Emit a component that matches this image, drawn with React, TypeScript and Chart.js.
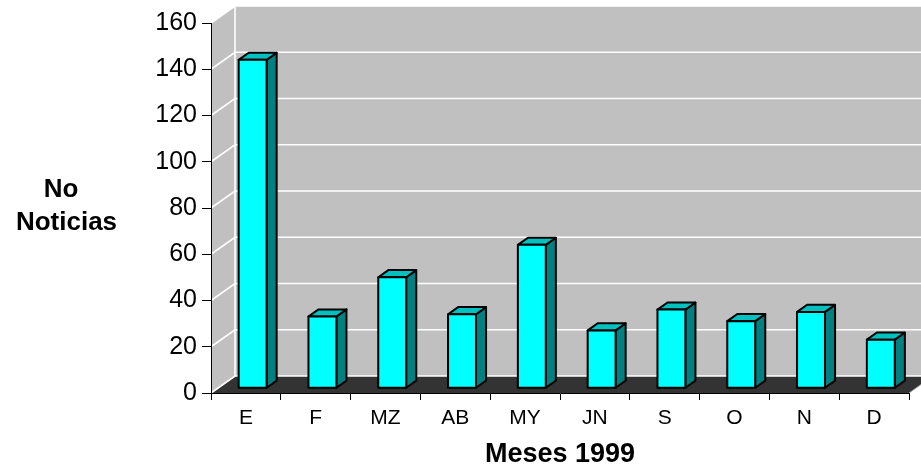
import React, { useEffect, useRef } from "react";
import { Chart, registerables } from "chart.js";

Chart.register(...registerables);

const categories = ["E", "F", "MZ", "AB", "MY", "JN", "S", "O", "N", "D"];
const noticias = [142, 31, 48, 32, 62, 25, 34, 29, 33, 21];
const yTicks = [0, 20, 40, 60, 80, 100, 120, 140, 160];
const yTitleLines = ["No", "Noticias"];
const xTitle = "Meses 1999";

const DX = 24;
const DY = 17;
const F0 = 0.28;
const F1 = 0.7;

const walls3d = {
  id: "walls3d",
  beforeDraw(chart: any) {
    const { ctx, chartArea: a, scales } = chart;
    const y = scales.y;
    const L = a.left, R = a.right, T = a.top, B = a.bottom;
    ctx.save();
    // back wall
    ctx.fillStyle = "#c0c0c0";
    ctx.fillRect(L + DX, T - DY, R - L, B - T);
    // left wall
    ctx.beginPath();
    ctx.moveTo(L, B);
    ctx.lineTo(L, T);
    ctx.lineTo(L + DX, T - DY);
    ctx.lineTo(L + DX, B - DY);
    ctx.closePath();
    ctx.fill();
    // floor
    ctx.fillStyle = "#333333";
    ctx.beginPath();
    ctx.moveTo(L, B);
    ctx.lineTo(R, B);
    ctx.lineTo(R + DX, B - DY);
    ctx.lineTo(L + DX, B - DY);
    ctx.closePath();
    ctx.fill();
    ctx.strokeStyle = "#9a9a9a";
    ctx.lineWidth = 1;
    ctx.beginPath();
    ctx.moveTo(R, B);
    ctx.lineTo(R + DX, B - DY);
    ctx.stroke();
    // grid lines
    ctx.strokeStyle = "#ffffff";
    ctx.lineWidth = 1.6;
    yTicks.forEach((v) => {
      const py = y.getPixelForValue(v);
      ctx.beginPath();
      ctx.moveTo(L, py);
      ctx.lineTo(L + DX, py - DY);
      ctx.lineTo(R + DX, py - DY);
      ctx.stroke();
    });
    ctx.beginPath();
    ctx.moveTo(L + DX, T - DY);
    ctx.lineTo(L + DX, B - DY);
    ctx.stroke();
    ctx.restore();
  },
  afterDatasetsDraw(chart: any) {
    const { ctx } = chart;
    const meta = chart.getDatasetMeta(0);
    ctx.save();
    ctx.lineWidth = 2;
    ctx.strokeStyle = "#000000";
    ctx.lineJoin = "round";
    const ddx = (F1 - F0) * DX;
    const ddy = (F1 - F0) * DY;
    meta.data.forEach((bar: any) => {
      const { x, y, base, width } = bar.getProps(["x", "y", "base", "width"], true);
      const x0 = x - width / 2 + F0 * DX;
      const x1 = x + width / 2 + F0 * DX;
      const yt = y - F0 * DY;
      const yb = base - F0 * DY;
      // side
      ctx.fillStyle = "#008080";
      ctx.beginPath();
      ctx.moveTo(x1, yb);
      ctx.lineTo(x1, yt);
      ctx.lineTo(x1 + ddx, yt - ddy);
      ctx.lineTo(x1 + ddx, yb - ddy);
      ctx.closePath();
      ctx.fill();
      ctx.stroke();
      // top
      ctx.fillStyle = "#00c0c0";
      ctx.beginPath();
      ctx.moveTo(x0, yt);
      ctx.lineTo(x1, yt);
      ctx.lineTo(x1 + ddx, yt - ddy);
      ctx.lineTo(x0 + ddx, yt - ddy);
      ctx.closePath();
      ctx.fill();
      ctx.stroke();
      // front
      ctx.fillStyle = "#00ffff";
      ctx.beginPath();
      ctx.rect(x0, yt, x1 - x0, yb - yt);
      ctx.fill();
      ctx.stroke();
    });
    ctx.restore();
  },
  afterDraw(chart: any) {
    const { ctx } = chart;
    ctx.save();
    ctx.fillStyle = "#000000";
    ctx.font = 'bold 26px "Liberation Sans", Arial, sans-serif';
    ctx.textAlign = "center";
    ctx.textBaseline = "alphabetic";
    ctx.fillText(yTitleLines[0], 61, 197);
    ctx.fillText(yTitleLines[1], 66.5, 230);
    ctx.restore();
  },
};

export default function App() {
  const ref = useRef<HTMLCanvasElement | null>(null);
  useEffect(() => {
    if (!ref.current) return;
    Chart.defaults.font.family = '"Liberation Sans", Arial, sans-serif';
    const chart = new Chart(ref.current, {
      type: "bar",
      data: {
        labels: categories,
        datasets: [
          {
            data: noticias,
            backgroundColor: "rgba(0,0,0,0)",
            borderWidth: 0,
            barPercentage: 1,
            categoryPercentage: 0.4,
          },
        ],
      },
      options: {
        responsive: false,
        animation: false,
        layout: { padding: { top: 23, right: 12, left: 0, bottom: 0 } },
        plugins: { legend: { display: false }, tooltip: { enabled: false } },
        scales: {
          x: {
            offset: true,
            afterFit: (s: any) => {
              s.height = 82;
            },
            grid: {
              offset: true,
              drawOnChartArea: false,
              drawTicks: true,
              tickLength: 7,
              color: "#000000",
            },
            border: { display: true, color: "#000000", width: 1 },
            ticks: { color: "#000000", font: { size: 21 }, padding: 6 },
            title: {
              display: true,
              text: xTitle,
              color: "#000000",
              font: { size: 27, weight: "bold" },
              padding: { top: 0, bottom: 4 },
            },
          },
          y: {
            min: 0,
            max: 160,
            afterFit: (s: any) => {
              s.width = 211;
            },
            afterBuildTicks: (s: any) => {
              s.ticks = yTicks.map((v) => ({ value: v }));
            },
            grid: {
              drawOnChartArea: false,
              drawTicks: true,
              tickLength: 9,
              color: "#000000",
            },
            border: { display: true, color: "#000000", width: 1 },
            ticks: { color: "#000000", font: { size: 25 }, padding: 5 },
          },
        },
      },
      plugins: [walls3d],
    });
    return () => chart.destroy();
  }, []);
  return (
    <div style={{ position: "absolute", left: 0, top: 0, width: 921, height: 475 }}>
      <canvas ref={ref} width={921} height={475} style={{ width: 921, height: 475 }} />
    </div>
  );
}
